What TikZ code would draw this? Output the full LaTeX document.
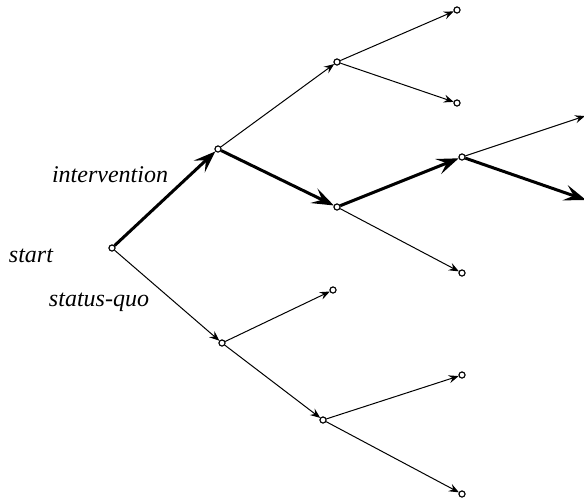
\documentclass[tikz,border=0pt]{standalone}
\usepackage{fontspec}
\setmainfont{Liberation Serif}
\newfontfamily\labfont{Liberation Serif Italic}
\usetikzlibrary{arrows.meta}
\begin{document}
\begin{tikzpicture}[x=0.5pt,y=-0.5pt,
  dot/.style={circle,draw,fill=white,line width=0.5pt,inner sep=0pt,minimum size=3pt},
  thin edge/.style={line width=0.5pt,-{Stealth[length=5pt,width=4pt,inset=1.8pt]}},
  bold edge/.style={line width=1.5pt,-{Stealth[length=11pt,width=8pt,inset=4.5pt]}},
  lab/.style={font=\labfont\fontsize{12}{14}\selectfont,anchor=base,inner sep=0pt}]
\useasboundingbox (0,0) rectangle (584,503);
\clip (0,0) rectangle (584,503);
% nodes
\node[dot] (S) at (112,248) {};
\node[dot] (A) at (218,149) {};
\node[dot] (B) at (222,343) {};
\node[dot] (A1) at (337,62) {};
\node[dot] (A2) at (337,207) {};
\node[dot] (A1a) at (457,10) {};
\node[dot] (A1b) at (457,103) {};
\node[dot] (A2a) at (462,157) {};
\node[dot] (A2b) at (462,273) {};
\coordinate (E1) at (585,116);
\coordinate (E2) at (586,200);
\node[dot] (B1) at (333,290) {};
\node[dot] (B2) at (323,420) {};
\node[dot] (B2a) at (462,375) {};
\node[dot] (B2b) at (462,494) {};
% labels
\node[lab] (Ls) at (31,262) {start};
\node[lab] (Li) at (110,182) {intervention};
\node[lab] (Lq) at (99,306) {status-quo};
% edges
\draw[bold edge] (S) -- (A);
\draw[bold edge] (A) -- (A2);
\draw[bold edge] (A2) -- (A2a);
\draw[bold edge] (A2a) -- (E2);
\draw[thin edge] (S) -- (B);
\draw[thin edge] (A) -- (A1);
\draw[thin edge] (A1) -- (A1a);
\draw[thin edge] (A1) -- (A1b);
\draw[thin edge] (A2) -- (A2b);
\draw[thin edge] (A2a) -- (E1);
\draw[thin edge] (B) -- (B1);
\draw[thin edge] (B) -- (B2);
\draw[thin edge] (B2) -- (B2a);
\draw[thin edge] (B2) -- (B2b);
% redraw dots on top
\foreach \n in {S,A,B,A1,A2,A1a,A1b,A2a,A2b,B1,B2,B2a,B2b}
  \node[dot] at (\n) {};
\end{tikzpicture}
\end{document}
